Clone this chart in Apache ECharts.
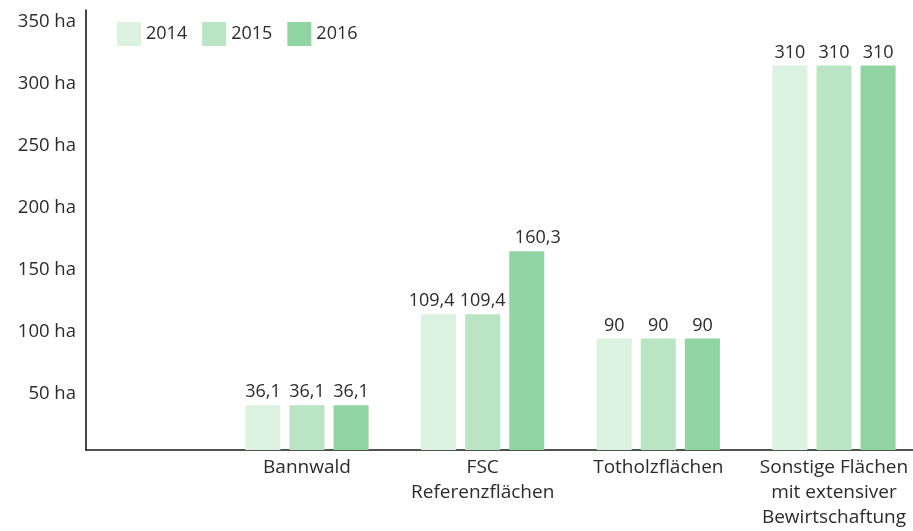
<!DOCTYPE html>
<html>
<head>
<meta charset="utf-8">
<script src="https://cdn.jsdelivr.net/npm/echarts@6/dist/echarts.min.js"></script>
<style>html,body{margin:0;padding:0;background:#fff}#c{width:913px;height:531px}</style>
</head>
<body>
<div id="c"></div>
<script>
const categories = ['Bannwald', 'FSC\nReferenzflächen', 'Totholzflächen', 'Sonstige Flächen\nmit extensiver\nBewirtschaftung'];
const years = ['2014', '2015', '2016'];
const values2014 = [36.1, 109.4, 90, 310];
const values2015 = [36.1, 109.4, 90, 310];
const values2016 = [36.1, 160.3, 90, 310];
const yTicks = [0, 50, 100, 150, 200, 250, 300, 350];
const yMax = 354.8;
const colors = ['#daf2df', '#b9e5c4', '#90d4a2'];

const FONT = '"Open Sans", "Noto Sans", sans-serif';
const TXT = '#2b2b2b';
const W = 400;
const fmt = v => String(v).replace('.', ',');

const chart = echarts.init(document.getElementById('c'), null, {renderer: 'canvas'});
const seriesData = [values2014, values2015, values2016];

// spread neighbouring value labels of equal wide values apart so they do not collide
function spreadLabels(params) {
  const s = params.seriesIndex, d = params.dataIndex;
  const arr = seriesData;
  const txt = v => fmt(v).length;
  if (txt(arr[s][d]) < 5) return {};
  const leftWide = s > 0 && txt(arr[s - 1][d]) >= 5;
  const rightWide = s < arr.length - 1 && txt(arr[s + 1][d]) >= 5;
  if (rightWide && !leftWide) return {dx: -7};
  if (leftWide && !rightWide) return {dx: 11};
  return {};
}

chart.setOption({
  animation: false,
  textStyle: {fontFamily: FONT},
  legend: {
    left: 117, top: 22, padding: 0,
    itemWidth: 24, itemHeight: 24, itemGap: 15,
    icon: 'rect',
    data: years,
    textStyle: {fontSize: 18, color: TXT, fontFamily: FONT, fontWeight: W}
  },
  grid: [
    {left: 307, right: 79, top: 10, bottom: 81},
    {left: 86, right: 0, top: 10, bottom: 81}
  ],
  xAxis: [
    {
      type: 'category', gridIndex: 0, data: categories, boundaryGap: false,
      axisLine: {show: false}, axisTick: {show: false}, splitLine: {show: false},
      axisLabel: {interval: 0, margin: 5, fontSize: 19, lineHeight: 25, color: TXT, fontFamily: FONT, fontWeight: W}
    },
    {
      type: 'value', gridIndex: 1, min: 0, max: 1,
      axisLine: {show: true, lineStyle: {color: '#1a1a1a', width: 1.6}},
      axisTick: {show: false}, axisLabel: {show: false}, splitLine: {show: false}
    }
  ],
  yAxis: [
    {type: 'value', gridIndex: 0, min: 0, max: yMax, interval: 50, show: false},
    {
      type: 'value', gridIndex: 1, min: yTicks[0], max: yMax, interval: 50,
      axisLine: {show: true, lineStyle: {color: '#1a1a1a', width: 1.6}},
      axisTick: {show: false}, splitLine: {show: false},
      axisLabel: {
        margin: 10, fontSize: 18.5, color: TXT, fontFamily: FONT, fontWeight: W,
        verticalAlign: 'top', lineHeight: 11,
        formatter: v => (v === 0 || yTicks.indexOf(v) < 0) ? '' : v + ' ha'
      }
    }
  ],
  series: years.map((y, i) => ({
    name: y, type: 'bar', xAxisIndex: 0, yAxisIndex: 0,
    data: seriesData[i],
    clip: false,
    barWidth: 35, barGap: '26%',
    itemStyle: {color: colors[i]},
    labelLayout: spreadLabels,
    label: {
      show: true, position: 'top', distance: 4,
      fontSize: 18, color: TXT, fontFamily: FONT, fontWeight: W,
      formatter: p => fmt(p.value)
    }
  }))
});
</script>
</body>
</html>
